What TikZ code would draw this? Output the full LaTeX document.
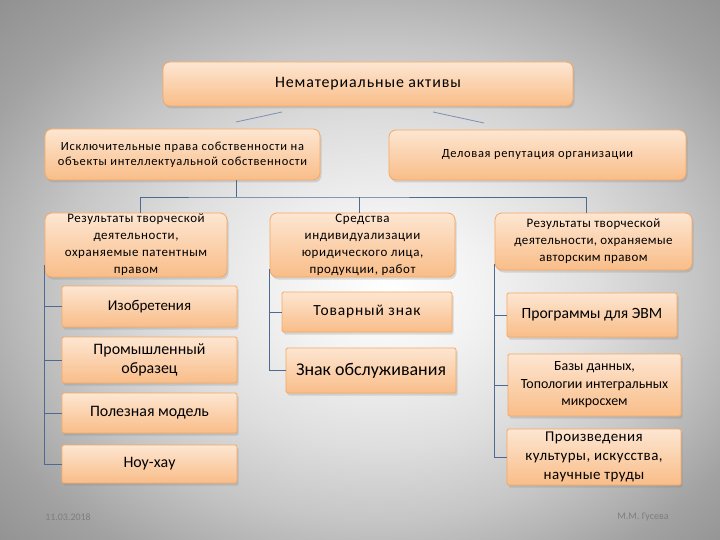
\documentclass[tikz,border=0pt]{standalone}
\usepackage{fontspec}
\setmainfont{Carlito}
\usetikzlibrary{shadows}
\definecolor{boxtop}{HTML}{FDE6D2}
\definecolor{boxbot}{HTML}{F9BD88}
\definecolor{boxline}{HTML}{F5A862}
\definecolor{conn}{HTML}{4F6A90}
\definecolor{slant}{HTML}{7A92B0}
\definecolor{bgA}{HTML}{F2F2F2}
\definecolor{bgB}{HTML}{DEDEDE}
\definecolor{bgC}{HTML}{C6C6C6}
\definecolor{bgD}{HTML}{A2A2A2}
\definecolor{bgE}{HTML}{8C8C8C}
\definecolor{foot}{HTML}{7E7E7E}
\pgfdeclareradialshading{bgshade}{\pgfpoint{2bp}{-2bp}}{%
  color(0bp)=(white); color(7bp)=(bgA); color(15bp)=(bgB); color(22bp)=(bgC);
  color(30bp)=(bgD); color(38bp)=(bgE); color(50bp)=(bgE)}
\newcommand\fsz[3]{\fontsize{#1}{#2}\selectfont\addfontfeatures{LetterSpace=#3}}
\tikzset{
  box/.style={draw=boxline, line width=0.8bp, top color=boxtop, bottom color=boxbot,
    rounded corners=7bp, inner sep=0pt,
    drop shadow={opacity=0.25, shadow xshift=1.5bp, shadow yshift=-2.5bp}},
  sqbox/.style={box, rounded corners=1.5bp},
  txt/.style={align=center, text=black, inner sep=0pt},
  conn/.style={draw=conn, line width=0.8bp},
  slantline/.style={draw=slant, line width=0.8bp},
  foottxt/.style={text=foot, font=\fontsize{10}{11}\selectfont, inner sep=0pt}
}
\begin{document}
\begin{tikzpicture}[x=1bp,y=-1bp]
\shade[shading=bgshade] (0,0) rectangle (720,540);
\useasboundingbox (0,0) rectangle (720,540);

% level 1
\node[box, minimum width=410bp, minimum height=44bp] (top) at (368,84) {};
\node[txt, font=\fsz{16}{19}{5.5}] (topt) at (top.center) {Нематериальные активы};

% level 2
\node[box, minimum width=275bp, minimum height=51bp] (exc) at (182.5,154.5) {};
\node[txt, font=\fsz{12.5}{15}{5.5}] (exct) at (exc.center) {Исключительные права собственности на\\объекты интеллектуальной собственности};
\node[box, minimum width=297bp, minimum height=50bp] (rep) at (537.5,155) {};
\node[txt, font=\fsz{12.5}{15}{5.5}] (rept) at (rep.center) {Деловая репутация организации};

% level 3
\node[box, minimum width=182bp, minimum height=64bp] (pat) at (136,245) {};
\node[txt, font=\fsz{13}{17}{4.5}] (patt) at (136,245) {Результаты творческой\\деятельности,\\охраняемые патентным\\правом};
\node[box, minimum width=185bp, minimum height=64bp] (ind) at (362.5,245) {};
\node[txt, font=\fsz{13}{17}{4.5}] (indt) at (362.5,245) {Средства\\индивидуализации\\юридического лица,\\продукции, работ};
\node[box, minimum width=197bp, minimum height=57bp] (aut) at (593.5,241.5) {};
\node[txt, font=\fsz{13}{17}{3}] (autt) at (aut.center) {Результаты творческой\\деятельности, охраняемые\\авторским правом};

% level 4 left
\node[sqbox, minimum width=175bp, minimum height=41bp] (inv) at (149.5,306.5) {};
\node[txt, font=\fsz{15}{19}{0}] at (inv.center) {Изобретения};
\node[sqbox, minimum width=175bp, minimum height=46bp] (prom) at (149.5,360) {};
\node[txt, font=\fsz{16}{19.5}{0}] at (prom.center) {Промышленный\\образец};
\node[sqbox, minimum width=175bp, minimum height=40bp] (util) at (149.5,413) {};
\node[txt, font=\fsz{16}{19}{0}] at (util.center) {Полезная модель};
\node[sqbox, minimum width=175bp, minimum height=38bp] (know) at (149.5,464) {};
\node[txt, font=\fsz{16}{19}{0}] at (know.center) {Ноу-хау};

% level 4 middle
\node[sqbox, minimum width=170bp, minimum height=40bp] (tm) at (367,312) {};
\node[txt, font=\fsz{15.5}{19}{6}] at (tm.center) {Товарный знак};
\node[sqbox, minimum width=170bp, minimum height=45bp] (serv) at (371,370.5) {};
\node[txt, font=\fsz{18}{21}{0}] at (serv.center) {Знак обслуживания};

% level 4 right
\node[sqbox, minimum width=170bp, minimum height=44bp] (prog) at (592,315) {};
\node[txt, font=\fsz{15.7}{19}{0}] at (prog.center) {Программы для ЭВМ};
\node[sqbox, minimum width=173bp, minimum height=62bp] (db) at (594.5,385) {};
\node[txt, font=\fsz{14}{17.5}{0}] at (db.center) {Базы данных,\\Топологии интегральных\\микросхем};
\node[sqbox, minimum width=174bp, minimum height=56bp] (works) at (594,457) {};
\node[txt, font=\fsz{15}{19.5}{3}] at (works.center) {Произведения\\культуры, искусства,\\научные труды};

% slanted connectors under top box
\coordinate (s1a) at (282,112); \coordinate (s1b) at (236,122);
\coordinate (s2a) at (433,112); \coordinate (s2b) at (484,123);
\draw[slantline] (s1a) -- (s1b);
\draw[slantline] (s2a) -- (s2b);

% tree from exc
\coordinate (bus) at (236,197);
\draw[conn] (exc.south -| bus) -- (bus);
\draw[conn] (pat.north -| 140,0) |- (bus) -| (aut.north -| 586,0);
\draw[conn] (bus -| 359,0) -- (ind.north -| 359,0);

% left column
\draw[conn] ([yshift=12bp]pat.south west) |- (know.west);
\foreach \n in {inv,prom,util} \draw[conn] (pat.west |- \n.west) -- (\n.west);
% middle column
\draw[conn] ([yshift=8bp]ind.south west) |- (serv.west);
\draw[conn] (ind.west |- tm.west) -- (tm.west);
% right column
\draw[conn] ([yshift=6bp]aut.south west) |- (works.west);
\foreach \n in {prog,db} \draw[conn] (aut.west |- \n.west) -- (\n.west);

% footer
\node[foottxt] (date) at (68,517) {11.03.2018};
\node[foottxt] (auth) at (643,517) {М.М. Гусева};
\end{tikzpicture}
\end{document}
